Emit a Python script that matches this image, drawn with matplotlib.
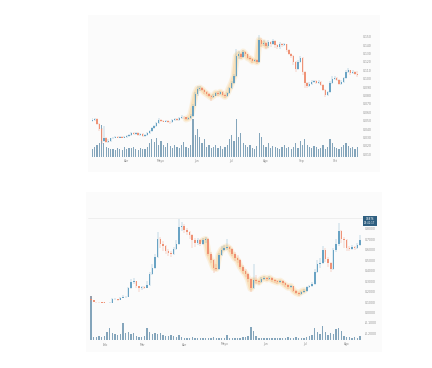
"""Two candlestick charts with volume, stacked."""

import matplotlib

matplotlib.use("Agg")
import matplotlib.dates as mdates
import matplotlib.pyplot as plt
import numpy as np
import pandas as pd
from matplotlib.patches import Rectangle
from matplotlib.ticker import FixedLocator, FormatStrFormatter, FuncFormatter

MONTHS_ES = ["Ene", "Feb", "Mar", "Abr", "Mayo", "Jun", "Jul", "Ago", "Sep", "Oct", "Nov", "Dic"]

# ---- top chart (2-day candles, Mar -> Oct) ----
top_start = "2021-03-02"
top_first_open = 0.050
top_close = [0.051, 0.052, 0.046, 0.040, 0.026, 0.030, 0.025, 0.026, 0.029, 0.030,
             0.031, 0.030, 0.031, 0.030, 0.031, 0.032, 0.033, 0.035, 0.034, 0.035,
             0.033, 0.034, 0.032, 0.033, 0.035, 0.038, 0.041, 0.044, 0.047, 0.051,
             0.050, 0.049, 0.050, 0.049, 0.048, 0.051, 0.052, 0.051, 0.053, 0.055,
             0.054, 0.052, 0.053, 0.056, 0.068, 0.082, 0.088, 0.089, 0.087, 0.084,
             0.082, 0.080, 0.078, 0.080, 0.083, 0.082, 0.084, 0.081, 0.079, 0.083,
             0.089, 0.095, 0.103, 0.127, 0.130, 0.126, 0.132, 0.129, 0.125, 0.124,
             0.121, 0.122, 0.120, 0.146, 0.141, 0.143, 0.139, 0.144, 0.141, 0.145,
             0.140, 0.138, 0.142, 0.140, 0.141, 0.134, 0.130, 0.127, 0.120, 0.112,
             0.120, 0.125, 0.108, 0.095, 0.091, 0.094, 0.096, 0.097, 0.095, 0.096,
             0.093, 0.087, 0.081, 0.084, 0.095, 0.100, 0.101, 0.099, 0.094, 0.096,
             0.101, 0.108, 0.110, 0.107, 0.108, 0.106, 0.104]
top_high = [0.053, 0.053, 0.053, 0.047, 0.041, 0.044, 0.031, 0.028, 0.030, 0.031,
            0.032, 0.032, 0.032, 0.032, 0.032, 0.033, 0.034, 0.036, 0.036, 0.036,
            0.036, 0.035, 0.035, 0.034, 0.036, 0.039, 0.042, 0.045, 0.049, 0.053,
            0.052, 0.051, 0.051, 0.051, 0.050, 0.052, 0.053, 0.053, 0.054, 0.057,
            0.056, 0.055, 0.054, 0.058, 0.070, 0.084, 0.091, 0.091, 0.090, 0.088,
            0.086, 0.083, 0.081, 0.082, 0.084, 0.085, 0.085, 0.085, 0.082, 0.084,
            0.090, 0.097, 0.106, 0.136, 0.133, 0.131, 0.134, 0.133, 0.130, 0.127,
            0.125, 0.124, 0.123, 0.152, 0.148, 0.146, 0.144, 0.146, 0.145, 0.147,
            0.146, 0.142, 0.144, 0.143, 0.143, 0.142, 0.135, 0.131, 0.128, 0.121,
            0.122, 0.127, 0.126, 0.109, 0.096, 0.096, 0.098, 0.099, 0.098, 0.098,
            0.097, 0.094, 0.088, 0.086, 0.097, 0.103, 0.103, 0.102, 0.100, 0.098,
            0.102, 0.110, 0.113, 0.111, 0.110, 0.109, 0.109]
top_low = [0.049, 0.050, 0.045, 0.038, 0.022, 0.025, 0.023, 0.024, 0.025, 0.028,
           0.029, 0.029, 0.029, 0.029, 0.030, 0.030, 0.031, 0.032, 0.033, 0.033,
           0.032, 0.032, 0.031, 0.031, 0.032, 0.034, 0.037, 0.040, 0.043, 0.046,
           0.048, 0.048, 0.048, 0.047, 0.046, 0.047, 0.050, 0.050, 0.050, 0.052,
           0.052, 0.051, 0.051, 0.052, 0.055, 0.067, 0.080, 0.086, 0.085, 0.082,
           0.080, 0.078, 0.073, 0.077, 0.079, 0.080, 0.081, 0.080, 0.077, 0.078,
           0.082, 0.088, 0.094, 0.102, 0.124, 0.123, 0.125, 0.127, 0.123, 0.122,
           0.119, 0.120, 0.118, 0.119, 0.138, 0.139, 0.136, 0.137, 0.138, 0.140,
           0.137, 0.135, 0.136, 0.138, 0.139, 0.132, 0.128, 0.125, 0.117, 0.108,
           0.111, 0.119, 0.104, 0.089, 0.089, 0.090, 0.093, 0.095, 0.094, 0.094,
           0.091, 0.085, 0.078, 0.080, 0.083, 0.094, 0.098, 0.097, 0.093, 0.093,
           0.095, 0.100, 0.107, 0.105, 0.106, 0.104, 0.102]
top_volume = [8, 10, 12, 14, 32, 14, 10, 9, 8, 8,
              7, 9, 8, 7, 10, 8, 9, 9, 10, 8,
              7, 9, 8, 8, 10, 14, 18, 15, 19, 12,
              16, 12, 10, 14, 11, 9, 12, 10, 9, 12,
              15, 10, 9, 12, 38, 22, 28, 20, 14, 18,
              10, 12, 9, 10, 12, 9, 11, 8, 10, 12,
              18, 22, 16, 38, 20, 24, 14, 12, 10, 12,
              9, 8, 11, 24, 20, 12, 10, 14, 9, 11,
              10, 9, 8, 10, 12, 9, 10, 8, 10, 14,
              9, 16, 12, 18, 12, 10, 9, 11, 10, 8,
              9, 12, 8, 10, 18, 14, 10, 9, 8, 10,
              12, 14, 11, 9, 10, 8, 10]
top_glow = (41, 76)
top_yticks = [0.010, 0.020, 0.030, 0.040, 0.050, 0.060, 0.070, 0.080,
              0.090, 0.100, 0.110, 0.120, 0.130, 0.140, 0.150]

# ---- bottom chart (2-day candles, Jan -> Aug) ----
bot_start = "2021-01-21"
bot_first_open = 0.130
bot_close = [0.115, 0.100, 0.098, 0.097, 0.095, 0.092, 0.090, 0.095, 0.125, 0.128,
             0.122, 0.140, 0.145, 0.150, 0.230, 0.290, 0.300, 0.250, 0.230, 0.240,
             0.235, 0.260, 0.370, 0.430, 0.530, 0.700, 0.660, 0.640, 0.590, 0.570,
             0.560, 0.610, 0.660, 0.820, 0.830, 0.790, 0.770, 0.740, 0.690, 0.670,
             0.690, 0.660, 0.690, 0.700, 0.560, 0.500, 0.430, 0.420, 0.550, 0.600,
             0.620, 0.630, 0.610, 0.560, 0.520, 0.500, 0.440, 0.400, 0.370, 0.320,
             0.230, 0.310, 0.300, 0.290, 0.320, 0.330, 0.320, 0.330, 0.310, 0.300,
             0.290, 0.300, 0.280, 0.260, 0.240, 0.250, 0.210, 0.190, 0.180, 0.200,
             0.210, 0.240, 0.250, 0.270, 0.390, 0.460, 0.470, 0.600, 0.510, 0.470,
             0.420, 0.600, 0.660, 0.780, 0.700, 0.690, 0.620, 0.610, 0.630, 0.620,
             0.650, 0.690]
bot_high = [0.160, 0.118, 0.103, 0.101, 0.099, 0.097, 0.095, 0.100, 0.135, 0.140,
            0.132, 0.150, 0.165, 0.160, 0.245, 0.320, 0.330, 0.305, 0.255, 0.250,
            0.250, 0.300, 0.390, 0.460, 0.560, 0.770, 0.720, 0.680, 0.650, 0.610,
            0.590, 0.630, 0.690, 0.900, 0.870, 0.850, 0.810, 0.780, 0.750, 0.710,
            0.710, 0.700, 0.710, 0.720, 0.710, 0.580, 0.510, 0.460, 0.570, 0.640,
            0.650, 0.700, 0.640, 0.620, 0.580, 0.550, 0.510, 0.450, 0.420, 0.380,
            0.330, 0.460, 0.360, 0.310, 0.340, 0.350, 0.340, 0.350, 0.340, 0.320,
            0.310, 0.310, 0.310, 0.290, 0.270, 0.260, 0.255, 0.215, 0.200, 0.210,
            0.220, 0.250, 0.265, 0.290, 0.420, 0.500, 0.520, 0.640, 0.620, 0.530,
            0.480, 0.620, 0.700, 0.860, 0.790, 0.720, 0.700, 0.640, 0.650, 0.640,
            0.670, 0.740]
bot_low = [0.100, 0.096, 0.095, 0.094, 0.092, 0.089, 0.087, 0.088, 0.093, 0.118,
           0.112, 0.120, 0.135, 0.140, 0.148, 0.225, 0.270, 0.235, 0.200, 0.215,
           0.220, 0.230, 0.255, 0.360, 0.420, 0.520, 0.620, 0.590, 0.560, 0.540,
           0.530, 0.550, 0.600, 0.650, 0.780, 0.760, 0.740, 0.700, 0.620, 0.630,
           0.650, 0.640, 0.650, 0.670, 0.540, 0.470, 0.380, 0.400, 0.410, 0.540,
           0.590, 0.600, 0.580, 0.540, 0.490, 0.470, 0.420, 0.370, 0.340, 0.290,
           0.200, 0.220, 0.270, 0.260, 0.280, 0.310, 0.300, 0.310, 0.290, 0.280,
           0.270, 0.280, 0.260, 0.240, 0.225, 0.230, 0.195, 0.175, 0.160, 0.170,
           0.190, 0.200, 0.230, 0.240, 0.260, 0.380, 0.430, 0.460, 0.480, 0.440,
           0.390, 0.410, 0.580, 0.640, 0.670, 0.620, 0.590, 0.590, 0.600, 0.600,
           0.610, 0.640]
bot_volume = [44, 3, 3, 4, 3, 4, 8, 12, 7, 6,
              5, 6, 17, 7, 8, 6, 7, 4, 3, 3,
              4, 12, 8, 6, 7, 6, 7, 5, 4, 4,
              5, 4, 3, 5, 3, 2, 2, 2, 3, 2,
              2, 2, 2, 2, 2, 2, 3, 2, 2, 2,
              2, 5, 2, 2, 2, 2, 2, 3, 3, 4,
              13, 9, 4, 2, 2, 2, 2, 2, 2, 2,
              2, 2, 2, 2, 3, 2, 2, 3, 2, 2,
              2, 3, 4, 5, 12, 8, 6, 14, 8, 5,
              7, 6, 11, 12, 9, 4, 3, 3, 2, 3,
              2, 4]
bot_glow = (42, 80)
bot_yticks = [-0.2, -0.1, 0.0, 0.1, 0.2, 0.3, 0.4, 0.5, 0.6, 0.7, 0.8]
bot_last_label = "0.6876"
bot_last_time = "02:41:17"

UP = "#5c9cc0"
DOWN = "#ef8a6c"
VOL = "#6690ab"
GLOW = "#f8c36c"
LABEL = "#8c8c8c"
W, H = 432, 368


def px_rect(x0, y0, x1, y1):
    return [x0 / W, 1 - y1 / H, (x1 - x0) / W, (y1 - y0) / H]


def month_fmt(v, _pos):
    return MONTHS_ES[mdates.num2date(v).month - 1]


def draw_chart(fig, rect, start, first_open, close, high, low, volume, glow,
               ylim, yticks, yfmt, xlim, vol_scale, body_w):
    n = min(len(close), len(high), len(low), len(volume))
    close = np.asarray(close[:n])
    high = np.asarray(high[:n])
    low = np.asarray(low[:n])
    x = mdates.date2num(pd.date_range(start, periods=n, freq="2D"))
    opens = np.concatenate([[first_open], close[:-1]])
    colors = np.where(close >= opens, UP, DOWN)

    ax = fig.add_axes(rect)
    vax = ax.twinx()
    ax.set_zorder(vax.get_zorder() + 1)
    ax.patch.set_visible(False)
    vax.patch.set_visible(False)

    vax.bar(x, volume[:n], width=1.05, color=VOL, linewidth=0, alpha=0.8)
    vax.set_ylim(0, max(volume) * vol_scale)
    vax.set_yticks([])

    a, b = glow
    ax.plot(x[a:b + 1], close[a:b + 1], color=GLOW, lw=5, alpha=0.2,
            solid_capstyle="round", solid_joinstyle="round", zorder=1)
    ax.plot(x[a:b + 1], close[a:b + 1], color=GLOW, lw=3, alpha=0.3,
            solid_capstyle="round", solid_joinstyle="round", zorder=1)
    ax.vlines(x, low, high, colors=colors, linewidth=0.35, alpha=0.7, zorder=3)
    span = ylim[1] - ylim[0]
    body = np.maximum(np.abs(close - opens), span * 0.004)
    ax.bar(x, body, bottom=np.minimum(opens, close), width=body_w,
           color=colors, linewidth=0, alpha=0.9, zorder=4)

    ax.set_xlim(mdates.date2num(pd.Timestamp(xlim[0])), mdates.date2num(pd.Timestamp(xlim[1])))
    vax.set_xlim(ax.get_xlim())
    ax.set_ylim(*ylim)
    ax.yaxis.tick_right()
    ax.yaxis.set_major_locator(FixedLocator(yticks))
    ax.yaxis.set_major_formatter(FormatStrFormatter(yfmt))
    ax.xaxis.set_major_locator(mdates.MonthLocator())
    ax.xaxis.set_major_formatter(FuncFormatter(month_fmt))
    ax.tick_params(axis="both", length=0, labelsize=2.2, labelcolor=LABEL, pad=1.8)
    for a_ in (ax, vax):
        for s in a_.spines.values():
            s.set_visible(False)
    return ax


fig = plt.figure(figsize=(W / 100, H / 100), dpi=100)
fig.patch.set_facecolor("white")
for x0, y0, x1, y1 in [(88, 15, 380, 172), (86, 192, 382, 352)]:
    fig.patches.append(Rectangle((x0 / W, 1 - y1 / H), (x1 - x0) / W, (y1 - y0) / H,
                                 transform=fig.transFigure, fc="#fbfbfb", ec="none", zorder=-5))

draw_chart(fig, px_rect(92, 28, 360, 157), top_start, top_first_open,
           top_close, top_high, top_low, top_volume, top_glow,
           (0.0068, 0.1605), top_yticks, "%.3f",
           ("2021-03-01 14:00", "2021-10-22 08:00"), 3.4, 1.2)

bax = draw_chart(fig, px_rect(88, 218, 362, 340), bot_start, bot_first_open,
                 bot_close, bot_high, bot_low, bot_volume, bot_glow,
                 (-0.264, 0.905), bot_yticks, "%.4f",
                 ("2021-01-18 16:00", "2021-08-12 12:00"), 2.77, 1.2)
bax.spines["top"].set_visible(True)
bax.spines["top"].set_color("#e4e4e4")
bax.spines["top"].set_linewidth(0.4)

fig.text(370 / W, 1 - 221 / H, f"{bot_last_label}\n{bot_last_time}", ha="center", va="center",
         fontsize=1.8, color="white", linespacing=1.2,
         bbox=dict(boxstyle="square,pad=0.35", fc="#2f5f80", ec="none"))

fig.savefig("out.png", dpi=100)
